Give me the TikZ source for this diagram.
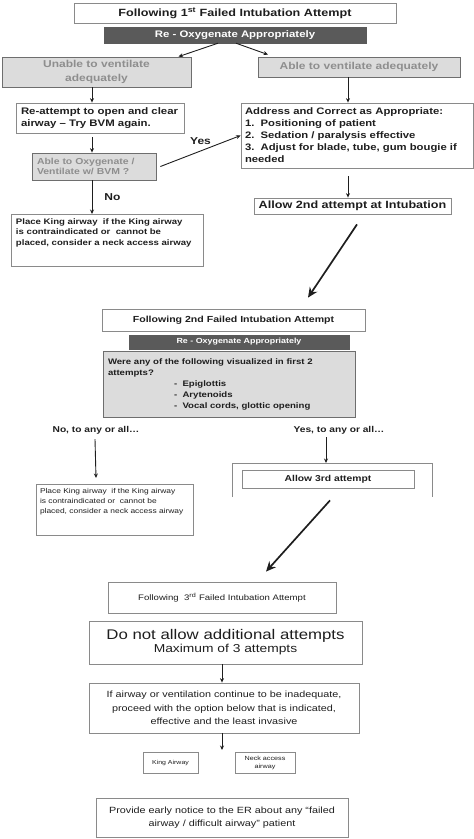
\documentclass[tikz,border=0pt]{standalone}
\usepackage{fontspec}
\setmainfont{Liberation Sans}[FakeStretch=1.2]
\usetikzlibrary{arrows.meta}
\definecolor{boxline}{HTML}{8A8A8A}
\definecolor{lightfill}{HTML}{DCDCDC}
\definecolor{darkfill}{HTML}{5A5A5A}
\definecolor{greytext}{HTML}{8E8E8E}
\definecolor{ink}{HTML}{1E1E1E}
\newcommand\sz[2]{\fontsize{#1}{#2}\selectfont}

\begin{document}
\begin{tikzpicture}[x=1pt,y=-1pt,
    box/.style={draw=boxline,line width=0.8pt,inner sep=0pt,text=ink},
    greybox/.style={box,fill=lightfill,draw=boxline!80!black},
    darkbar/.style={fill=darkfill,draw=darkfill,text=white,inner sep=0pt},
    lbl/.style={text=ink,inner sep=1pt},
    arr/.style={-{Stealth[length=4.5pt,width=4pt]},line width=0.9pt,draw=ink},
    bigarr/.style={-{Stealth[length=10pt,width=9pt]},line width=1.7pt,draw=ink}]
  \useasboundingbox (0,0) rectangle (474,839);

  % first failed attempt
  \node[box,minimum width=322,minimum height=20,font=\bfseries\sz{10.5}{12}] (fail1) at (235,13)
    {Following 1\textsuperscript{st} Failed Intubation Attempt};
  \node[darkbar,minimum width=262,minimum height=16,font=\bfseries\sz{9.5}{11}] (reox1) at (235,35)
    {Re - Oxygenate Appropriately};
  \node[greybox,minimum width=189,minimum height=30,align=center,text=greytext,font=\bfseries\sz{10}{13.5}] (unable) at (96.5,72)
    {Unable to ventilate\\adequately};
  \node[greybox,minimum width=202,minimum height=20,text=greytext,font=\bfseries\sz{10}{12}] (able) at (359,67)
    {Able to ventilate adequately};
  \node[box,text width=158,inner xsep=5,minimum height=30,align=left,font=\bfseries\sz{9.5}{12}] (reattempt) at (100,118)
    {Re-attempt to open and clear\\airway -- Try BVM again.};
  \node[greybox,text width=114,inner xsep=5,minimum height=27,align=left,text=greytext,font=\bfseries\sz{8.7}{10.5}] (bvm) at (94,166.5)
    {Able to Oxygenate /\\Ventilate w/ BVM ?};
  \node[box,text width=224,inner xsep=4,minimum height=65,align=left,font=\bfseries\sz{9.4}{12}] (correct) at (357,135.5)
    {Address and Correct as Appropriate:\\1.\ \ Positioning of patient\\2.\ \ Sedation / paralysis effective\\3.\ \ Adjust for blade, tube, gum bougie if\\needed};
  \node[box,anchor=north,text width=182,inner xsep=5,inner ysep=4,text depth=38,align=left,font=\bfseries\sz{8}{10.5}] (king1) at (107,214)
    {Place King airway\ \ if the King airway\\is contraindicated or\ \ cannot be\\placed, consider a neck access airway};
  \node[box,minimum width=197,minimum height=16,font=\bfseries\sz{10.5}{12}] (allow2) at (352.5,206)
    {Allow 2nd attempt at Intubation};

  \draw[arr] ([xshift=-17]reox1.south) -- ([xshift=82]unable.north);
  \draw[arr] ([xshift=1]reox1.south) -- ([xshift=-91,yshift=2]able.north);
  \draw[arr] ([xshift=-4.5]unable.south) -- ([xshift=-4.5]unable.south |- reattempt.north);
  \draw[arr] ([xshift=-8,yshift=-4]reattempt.south) -- ([xshift=-8]reattempt.south |- bvm.north);
  \draw[arr] ([xshift=4]bvm.east) -- node[lbl,above=5pt,font=\bfseries\sz{10}{12}] (yes) {Yes} (correct.west);
  \draw[arr] ([xshift=-2]bvm.south) -- node[lbl,right=11pt,font=\bfseries\sz{10}{12}] (no) {No} ([xshift=-2]bvm.south |- king1.north);
  \draw[arr] ([xshift=-11]able.south) -- ([xshift=-11]able.south |- correct.north);
  \draw[arr] ([xshift=-9,yshift=-8]correct.south) -- ([xshift=-9]correct.south |- allow2.north);

  % second failed attempt
  \node[box,minimum width=263,minimum height=22,font=\bfseries\sz{8.8}{10}] (fail2) at (233.5,320)
    {Following 2nd Failed Intubation Attempt};
  \node[darkbar,minimum width=220,minimum height=14,font=\bfseries\sz{7.4}{9}] (reox2) at (239,342)
    {Re - Oxygenate Appropriately};
  \node[greybox,text width=242,inner xsep=5,minimum height=66,align=left,font=\bfseries\sz{8}{11}] (seen) at (229,384)
    {Were any of the following visualized in first 2\\attempts?\\
     \hspace*{66pt}-\ \ Epiglottis\\
     \hspace*{66pt}-\ \ Arytenoids\\
     \hspace*{66pt}-\ \ Vocal cords, glottic opening};
  \node[lbl,font=\bfseries\sz{8.5}{10}] (nolbl) at (96,430) {No, to any or all\ldots};
  \node[lbl,font=\bfseries\sz{8.5}{10}] (yeslbl) at (339,430) {Yes, to any or all\ldots};
  \node[box,anchor=north,text width=149,inner xsep=4,inner ysep=4,text depth=38,align=left,font=\sz{7}{9.8}] (king2) at (114.5,484)
    {Place King airway\ \ if the King airway\\is contraindicated or\ \ cannot be\\placed, consider a neck access airway};
  \coordinate (frametop) at (326,463);
  \draw[draw=boxline,line width=0.8pt] (232,497) |- (432,463) -- (432,497);
  \node[box,minimum width=172,minimum height=18,font=\bfseries\sz{8.6}{10}] (allow3) at (328,479)
    {Allow 3rd attempt};

  \draw[bigarr] ([shift={(4.5,10)}]allow2.south) -- ([shift={(74.5,-11)}]fail2.north);
  \draw[arr] ([xshift=-1,yshift=-4]nolbl.south) -- ([yshift=6]nolbl.south |- king2.north);
  \draw[arr] ([xshift=-13,yshift=-2]yeslbl.south) -- (frametop);

  % third failed attempt
  \node[box,minimum width=228,minimum height=31,font=\sz{8}{9}] (fail3) at (222,597.5)
    {Following\ \ 3\textsuperscript{rd} Failed Intubation Attempt};
  \node[box,minimum width=273,minimum height=43,align=center] (noextra) at (225.5,642.5)
    {{\sz{14}{16}Do not allow additional attempts}\\[1pt]{\sz{11.5}{13}Maximum of 3 attempts}};
  \node[box,minimum width=270,minimum height=50,align=center,font=\sz{9}{13.5}] (options) at (224,708)
    {If airway or ventilation continue to be inadequate,\\proceed with the option below that is indicated,\\effective and the least invasive};
  \node[box,minimum width=55,minimum height=21,font=\sz{5.8}{7}] (kingair) at (170.5,762.5) {King Airway};
  \node[box,minimum width=60,minimum height=21,align=center,font=\sz{6}{8}] (neck) at (265,762.5) {Neck access\\airway};
  \node[box,minimum width=252,minimum height=39,align=center,font=\sz{9}{13}] (notice) at (222,817.5)
    {Provide early notice to the ER about any “failed\\airway / difficult airway” patient};
  \coordinate (fork) at (222,750);

  \draw[bigarr] ([shift={(2,12)}]allow3.south) -- ([shift={(44,-10)}]fail3.north);
  \draw[arr] ([xshift=-3.5]noextra.south) -- ([xshift=-3.5]noextra.south |- options.north);
  \draw[arr] ([xshift=-2]options.south) -- (fork);
\end{tikzpicture}
\end{document}
